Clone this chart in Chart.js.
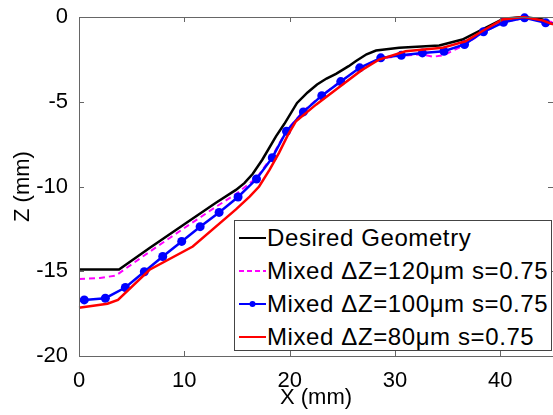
<!DOCTYPE html>
<html lang="en">
<head>
   <meta charset="UTF-8">
   <title>Z vs X profile</title>
   <script src="https://cdn.jsdelivr.net/npm/chart.js"></script>
   <style>
       body {
           margin: 0;
           padding: 0;
           background: #fff;
           font-family: "Liberation Sans", Arial, sans-serif;
       }
       #wrap {
           position: relative;
           width: 553px;
           height: 415px;
           overflow: hidden;
       }
       #legend {
           position: absolute;
           left: 234px;
           top: 220px;
           width: 318px;
           height: 131px;
           box-sizing: border-box;
           border: 1px solid #444;
           background: #fff;
       }
       .row {
           height: 33px;
           display: flex;
           align-items: center;
           font-size: 24px;
           letter-spacing: 0.6px;
           color: #000;
           white-space: nowrap;
       }
       .row svg {
           margin-left: 4px;
           margin-right: 1px;
           flex: none;
       }
   </style>
</head>
<body>
   <div id="wrap">
       <canvas id="myChart" width="553" height="415"></canvas>
       <div id="legend"></div>
   </div>
   <script>
       // series data (X in mm, Z in mm)
       const desiredX = [0, 3.8, 6.7, 10, 13, 14.9, 15.7, 16.5, 17.4, 18.7, 19.5, 20.7, 21.7, 22.6, 23.5, 24.4, 25.6, 26.3, 27.3, 28.2, 30.4, 34.2, 36.4, 38.4, 40.3, 42.2, 44, 45];
       const desiredZ = [-14.9, -14.9, -13.63, -12.23, -10.96, -10.2, -9.8, -9.25, -8.42, -7.04, -6.3, -5.07, -4.45, -3.98, -3.63, -3.35, -2.9, -2.6, -2.2, -1.98, -1.82, -1.68, -1.33, -0.7, -0.1, 0, -0.15, -0.4];

       const z120X = [0, 2, 3.5, 6.7, 10, 13, 15.0, 16.85, 18.3, 19.7, 21.3, 23.05, 24.85, 26.65, 28.65, 30.6, 32.6, 33.6, 34.65, 36.6, 38.4, 40.3, 42.3, 44.3, 45];
       const z120Z = [-15.45, -15.4, -15.25, -13.85, -12.45, -11.2, -10.4, -9.5, -8.25, -6.7, -5.55, -4.62, -3.8, -3.0, -2.45, -2.3, -2.2, -2.35, -2.25, -1.65, -0.9, -0.3, -0.05, -0.25, -0.3];

       const z100X = [0, 0.5, 2.5, 4.4, 6.2, 7.95, 9.75, 11.5, 13.3, 15.1, 16.85, 18.35, 19.7, 21.3, 23.05, 24.85, 26.65, 28.65, 30.6, 32.6, 34.65, 36.6, 38.4, 40.3, 42.3, 44.3, 45];
       const z100Z = [-16.7, -16.69, -16.59, -15.96, -15.03, -14.13, -13.24, -12.37, -11.53, -10.62, -9.56, -8.3, -6.74, -5.6, -4.64, -3.81, -3.0, -2.41, -2.26, -2.12, -2.02, -1.62, -0.87, -0.31, -0.05, -0.34, -0.4];

       const z80X = [0, 2.7, 3.7, 6.7, 10.8, 14.9, 16.2, 17.1, 18.1, 19.0, 19.8, 20.6, 22.5, 25.0, 26.8, 28.5, 31.0, 34.5, 36.7, 38.5, 40.2, 42.2, 44, 45];
       const z80Z = [-17.15, -16.92, -16.69, -14.91, -13.54, -11.35, -10.6, -10.0, -9.0, -8.0, -7.0, -6.15, -5.17, -3.99, -3.15, -2.51, -2.02, -1.82, -1.43, -0.75, -0.15, 0, -0.2, -0.44];

       const seriesNames = ['Desired Geometry', 'Mixed \u0394Z=120\u03bcm s=0.75', 'Mixed \u0394Z=100\u03bcm s=0.75', 'Mixed \u0394Z=80\u03bcm s=0.75'];
       const xTicks = [0, 10, 20, 30, 40];
       const yTicks = [0, -5, -10, -15, -20];

       const pts = (xs, zs) => xs.map((x, i) => ({ x: x, y: zs[i] }));
       const FONT = '"Liberation Sans", Arial, sans-serif';

       // blue markers everywhere except the two end points that only carry the line to the edges
       const blueRadius = z100X.map((x, i) => (i === 0 || i === z100X.length - 1) ? 0 : 4.5);

       // frame with inward ticks, like the original plot
       const framePlugin = {
           id: 'frame',
           afterDraw(chart) {
               const { ctx, chartArea: a, scales } = chart;
               ctx.save();
               ctx.strokeStyle = '#666';
               ctx.lineWidth = 1;
               ctx.beginPath();
               ctx.moveTo(a.left + 0.5, a.bottom + 0.5);
               ctx.lineTo(a.left + 0.5, a.top + 0.5);
               ctx.lineTo(a.right + 1, a.top + 0.5);
               ctx.moveTo(a.left, a.bottom + 0.5);
               ctx.lineTo(a.right + 1, a.bottom + 0.5);
               xTicks.forEach(v => {
                   const px = Math.round(scales.x.getPixelForValue(v)) + 0.5;
                   ctx.moveTo(px, a.bottom); ctx.lineTo(px, a.bottom - 5);
                   ctx.moveTo(px, a.top); ctx.lineTo(px, a.top + 5);
               });
               yTicks.forEach(v => {
                   const py = Math.round(scales.y.getPixelForValue(v)) + 0.5;
                   ctx.moveTo(a.left, py); ctx.lineTo(a.left + 5, py);
                   ctx.moveTo(a.right, py); ctx.lineTo(a.right - 5, py);
               });
               ctx.stroke();
               ctx.restore();
           }
       };

       const ctx = document.getElementById('myChart').getContext('2d');
       const chart = new Chart(ctx, {
           type: 'scatter',
           data: {
               datasets: [
                   {
                       label: seriesNames[0],
                       data: pts(desiredX, desiredZ),
                       showLine: true,
                       borderColor: '#000',
                       borderWidth: 2.5,
                       pointRadius: 0,
                       tension: 0,
                       order: 4
                   },
                   {
                       label: seriesNames[1],
                       data: pts(z120X, z120Z),
                       showLine: true,
                       borderColor: '#ff00ff',
                       borderWidth: 2,
                       borderDash: [6, 4],
                       pointRadius: 0,
                       tension: 0,
                       order: 3
                   },
                   {
                       label: seriesNames[2],
                       data: pts(z100X, z100Z),
                       showLine: true,
                       borderColor: '#0000ff',
                       backgroundColor: '#0000ff',
                       borderWidth: 2.5,
                       pointRadius: blueRadius,
                       pointBorderWidth: 0,
                       tension: 0,
                       order: 2
                   },
                   {
                       label: seriesNames[3],
                       data: pts(z80X, z80Z),
                       showLine: true,
                       borderColor: '#ff0000',
                       borderWidth: 2.5,
                       pointRadius: 0,
                       tension: 0,
                       order: 1
                   }
               ]
           },
           options: {
               responsive: false,
               animation: false,
               clip: false,
               layout: { padding: { top: 17, right: 0, left: 0, bottom: 0 } },
               plugins: {
                   legend: { display: false },
                   tooltip: { enabled: false }
               },
               scales: {
                   x: {
                       type: 'linear',
                       min: 0,
                       max: 45,
                       afterFit(scale) { scale.height = 59; },
                       afterBuildTicks(scale) { scale.ticks = xTicks.map(v => ({ value: v })); },
                       grid: { display: false },
                       border: { display: false },
                       ticks: {
                           color: '#000',
                           padding: 4,
                           maxRotation: 0,
                           font: { family: FONT, size: 22 }
                       },
                       title: {
                           display: true,
                           text: 'X (mm)',
                           color: '#000',
                           padding: { top: 0, bottom: 4 },
                           font: { family: FONT, size: 22 }
                       }
                   },
                   y: {
                       type: 'linear',
                       min: -20,
                       max: 0,
                       afterFit(scale) { scale.width = 79; },
                       afterBuildTicks(scale) { scale.ticks = yTicks.map(v => ({ value: v })); },
                       grid: { display: false },
                       border: { display: false },
                       ticks: {
                           color: '#000',
                           padding: 3,
                           font: { family: FONT, size: 22 }
                       },
                       title: {
                           display: true,
                           text: 'Z (mm)',
                           color: '#000',
                           padding: { top: 10, bottom: 0 },
                           font: { family: FONT, size: 22 }
                       }
                   }
               }
           },
           plugins: [framePlugin]
       });

       // legend box drawn as html inside the plot, lower right
       const samples = [
           '<line x1="0" y1="8" x2="27" y2="8" stroke="#000" stroke-width="2"/>',
           '<line x1="0" y1="8" x2="27" y2="8" stroke="#ff00ff" stroke-width="2" stroke-dasharray="5,3"/>',
           '<line x1="0" y1="8" x2="27" y2="8" stroke="#0000ff" stroke-width="2"/><circle cx="13.5" cy="8" r="3" fill="#0000ff"/>',
           '<line x1="0" y1="8" x2="27" y2="8" stroke="#ff0000" stroke-width="2"/>'
       ];
       const legend = document.getElementById('legend');
       seriesNames.forEach((name, i) => {
           const row = document.createElement('div');
           row.className = 'row';
           row.innerHTML = `<svg width="27" height="16">${samples[i]}</svg><span>${name}</span>`;
           legend.appendChild(row);
       });
   </script>
</body>
</html>
